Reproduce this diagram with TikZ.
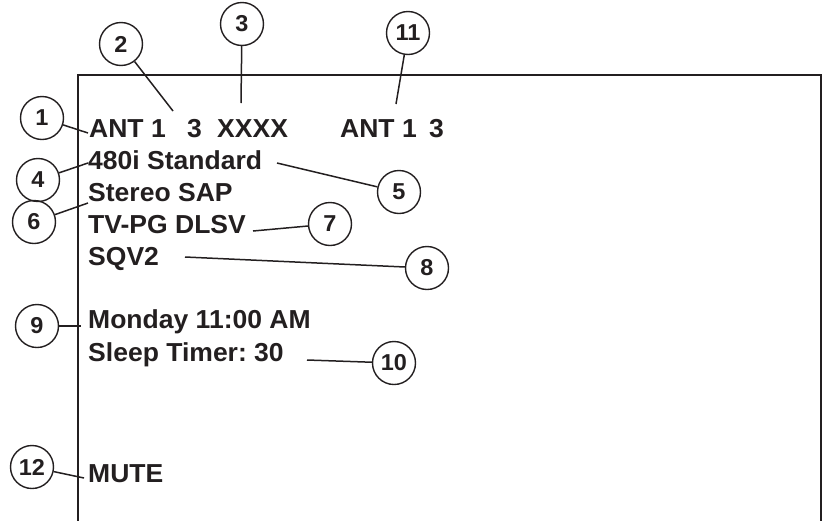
\documentclass[tikz,border=0pt]{standalone}
\usepackage{fontspec}
\setmainfont{Liberation Sans}[FakeStretch=1.02]
\definecolor{ink}{HTML}{231F20}
\frenchspacing
\begin{document}
\begin{tikzpicture}[x=1pt,y=-1pt,
  callout/.style={circle,draw=ink,line width=1.4pt,inner sep=0pt,minimum size=43pt,
    font=\fontsize{23}{23}\selectfont\bfseries,text=ink},
  osd/.style={anchor=base west,inner sep=0pt,font=\fontsize{26}{26}\selectfont\bfseries,text=ink},
  lead/.style={draw=ink,line width=1.5pt}]
\useasboundingbox (0,0) rectangle (825,520);
% screen frame
\draw[ink,line width=2.6pt] (78,522) -- (78,75) -- (821,75) -- (821,522);
% screen texts
\node[osd] (t1a) at (89,137) {ANT 1};
\node[osd] (t1b) at (187,137) {3};
\node[osd] (t1c) at (217,137) {XXXX};
\node[osd] (t11a) at (340,137) {ANT 1};
\node[osd] (t11b) at (429,137) {3};
\node[osd] (t4) at (88,169) {480i Standard};
\node[osd] (t6) at (88,201) {Stereo SAP};
\node[osd] (t7) at (88,233) {TV-PG DLSV};
\node[osd] (t8) at (88,265) {SQV2};
\node[osd] (t9) at (88,328) {Monday 11:00 AM};
\node[osd] (t10) at (88,361) {Sleep Timer: 30};
\node[osd] (t12) at (88,482) {MUTE};
% callouts
\node[callout] (c1) at (42,118) {1};
\node[callout] (c2) at (121,44) {2};
\node[callout] (c3) at (242,24) {3};
\node[callout] (c4) at (38,180) {4};
\node[callout] (c5) at (399,192) {5};
\node[callout] (c6) at (34,222) {6};
\node[callout] (c7) at (330,224) {7};
\node[callout] (c8) at (427,268) {8};
\node[callout] (c9) at (37,326) {9};
\node[callout] (c10) at (394,363) {10};
\node[callout] (c11) at (408,33) {11};
\node[callout] (c12) at (32,467) {12};
% leader end points
\coordinate (p1) at (88,133);
\coordinate (p2) at (173,111);
\coordinate (p3) at (241,103);
\coordinate (p4) at (88,163);
\coordinate (p5) at (277,163);
\coordinate (p6) at (88,203);
\coordinate (p7) at (253,231);
\coordinate (p8) at (185,257);
\coordinate (p9) at (81,326);
\coordinate (p10) at (307,360);
\coordinate (p11) at (396,104);
\coordinate (p12) at (84,478);
\foreach \i in {1,...,12} {\draw[lead] (c\i) -- (p\i);}
\end{tikzpicture}
\end{document}
